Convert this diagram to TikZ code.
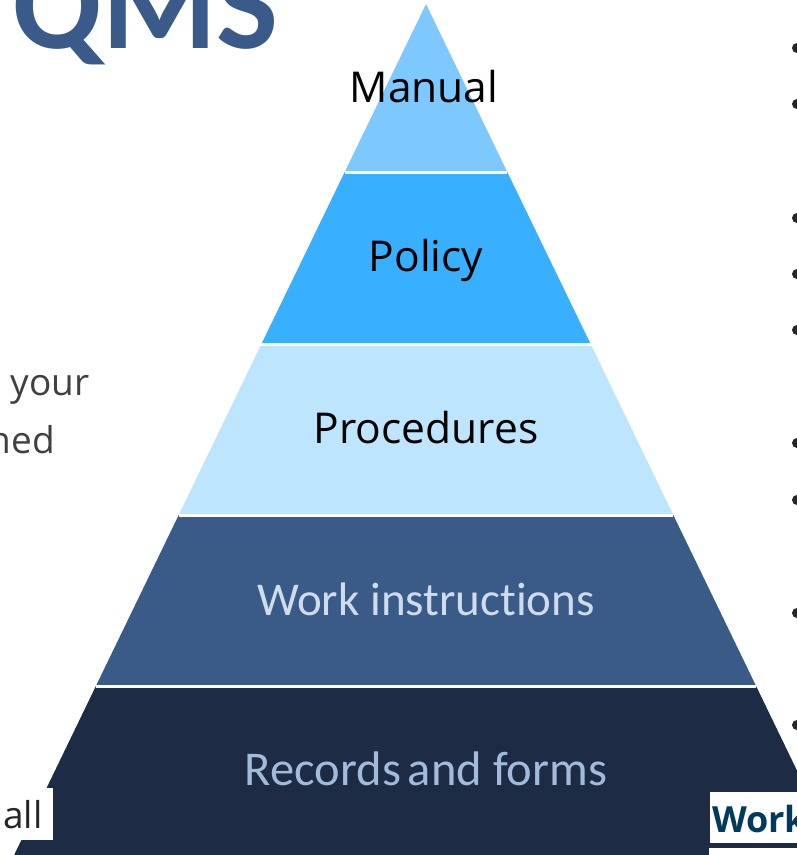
\documentclass[tikz,border=0pt]{standalone}
\usepackage{fontspec}
\setmainfont{Open Sans}
\newfontfamily\carlito[Ligatures=NoCommon]{Carlito}
\definecolor{tierA}{HTML}{7DC9FF}
\definecolor{tierB}{HTML}{38AFFF}
\definecolor{tierC}{HTML}{BDE5FD}
\definecolor{tierD}{HTML}{3A5A88}
\definecolor{tierE}{HTML}{1E2B45}
\definecolor{qmsblue}{HTML}{3A5A8A}
\definecolor{bodygray}{HTML}{404040}
\definecolor{workblue}{HTML}{003B5C}
\definecolor{paleD}{HTML}{D0DCEE}
\definecolor{paleE}{HTML}{A2BBDB}
\tikzstyle{tier}=[draw=none]
\tikzstyle{gap}=[white, line width=3pt]
\tikzstyle{toplabel}=[anchor=base, inner sep=0pt, font=\fontsize{42.5}{42.5}\selectfont]
\tikzstyle{lowlabel}=[anchor=base, inner sep=0pt, font=\carlito\fontsize{47}{47}\selectfont]
\tikzstyle{side}=[inner sep=0pt, text=bodygray, font=\fontsize{37}{37}\selectfont]
\tikzstyle{dot}=[circle, fill=black!85, minimum size=10pt, inner sep=0pt]

\begin{document}
\begin{tikzpicture}[x=1pt, y=-1pt]
\useasboundingbox (0,0) rectangle (797,855);
\clip (0,0) rectangle (797,855);
% pyramid corners
\coordinate (apex) at (426,4);
\coordinate (l1) at (344.7,172);
\coordinate (r1) at (507.3,172);
\coordinate (l2) at (261.4,344);
\coordinate (r2) at (590.6,344);
\coordinate (l3) at (178.7,515);
\coordinate (r3) at (673.3,515);
\coordinate (l4) at (95.9,686);
\coordinate (r4) at (756.1,686);
\coordinate (l5) at (6.9,870);
\coordinate (r5) at (845.1,870);
% tiers
\fill[tier, tierA] (apex) -- (r1) -- (l1) -- cycle;
\fill[tier, tierB] (l1) -- (r1) -- (r2) -- (l2) -- cycle;
\fill[tier, tierC] (l2) -- (r2) -- (r3) -- (l3) -- cycle;
\fill[tier, tierD] (l3) -- (r3) -- (r4) -- (l4) -- cycle;
\fill[tier, tierE] (l4) -- (r4) -- (r5) -- (l5) -- cycle;
\draw[gap] (l1) -- (r1);
\draw[gap] (l2) -- (r2);
\draw[gap] (l3) -- (r3);
\draw[gap] (l4) -- (r4);
% tier labels
\node[toplabel] (manual) at (424,102) {Manual};
\node[toplabel] (policy) at (426,271) {Policy};
\node[toplabel] (procedures) at (426,443) {Procedures};
\node[lowlabel, text=paleD] (work) at (426,615) {Work instructions};
\node[lowlabel, text=paleE, font=\carlito\fontsize{48.5}{48.5}\selectfont] (records) at (426,785) {Records\hspace{-4pt} and forms};
% heading and side text
\node[anchor=base west, inner sep=0pt, text=qmsblue, font=\carlito\bfseries\fontsize{131}{131}\selectfont] (qms) at (12,48) {QMS};
\node[side, anchor=base east] (your) at (90,395) {your};
\node[side, anchor=base east] (ned) at (55,453) {ned};
\fill[white] (0,788) rectangle (53,840);
\node[side, anchor=base west, text=black!85] (all) at (3,828) {all};
\fill[white] (710,792) rectangle (800,843);
\fill[white] (709,848) rectangle (800,860);
\node[anchor=base west, inner sep=0pt, text=workblue, font=\bfseries\fontsize{36}{36}\selectfont] (worklink) at (712,832) {Work};
% bullets
\node[dot] (b1) at (797,48) {};
\node[dot] (b2) at (797,104) {};
\node[dot] (b3) at (797,218) {};
\node[dot] (b4) at (797,274) {};
\node[dot] (b5) at (797,330) {};
\node[dot] (b6) at (797,443) {};
\node[dot] (b7) at (797,500) {};
\node[dot] (b8) at (797,613) {};
\node[dot] (b9) at (797,725) {};
\end{tikzpicture}
\end{document}
